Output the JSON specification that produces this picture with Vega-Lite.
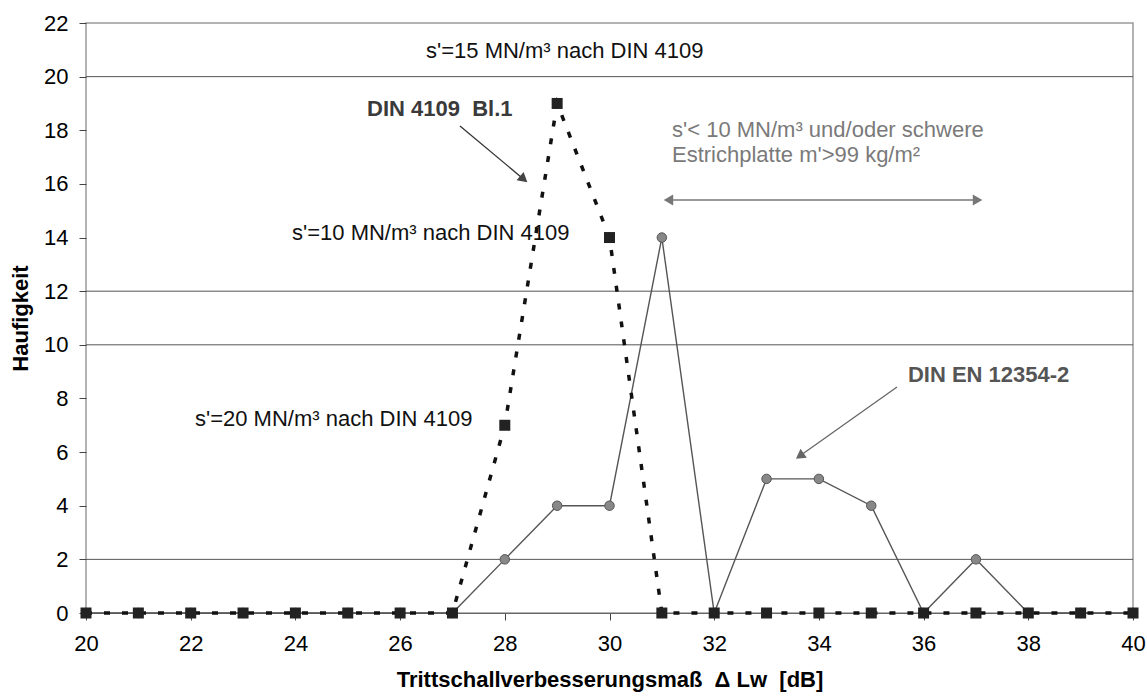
{
  "$schema": "https://vega.github.io/schema/vega-lite/v6.json",
  "width": 1047,
  "height": 590,
  "autosize": "none",
  "padding": {"left": 86, "top": 23, "right": 14, "bottom": 85},
  "background": "white",
  "datasets": {
    "series": [
      {"x": 20, "y": 0, "series": "DIN EN 12354-2"}, {"x": 21, "y": 0, "series": "DIN EN 12354-2"},
      {"x": 22, "y": 0, "series": "DIN EN 12354-2"}, {"x": 23, "y": 0, "series": "DIN EN 12354-2"},
      {"x": 24, "y": 0, "series": "DIN EN 12354-2"}, {"x": 25, "y": 0, "series": "DIN EN 12354-2"},
      {"x": 26, "y": 0, "series": "DIN EN 12354-2"}, {"x": 27, "y": 0, "series": "DIN EN 12354-2"},
      {"x": 28, "y": 2, "series": "DIN EN 12354-2"}, {"x": 29, "y": 4, "series": "DIN EN 12354-2"},
      {"x": 30, "y": 4, "series": "DIN EN 12354-2"}, {"x": 31, "y": 14, "series": "DIN EN 12354-2"},
      {"x": 32, "y": 0, "series": "DIN EN 12354-2"}, {"x": 33, "y": 5, "series": "DIN EN 12354-2"},
      {"x": 34, "y": 5, "series": "DIN EN 12354-2"}, {"x": 35, "y": 4, "series": "DIN EN 12354-2"},
      {"x": 36, "y": 0, "series": "DIN EN 12354-2"}, {"x": 37, "y": 2, "series": "DIN EN 12354-2"},
      {"x": 38, "y": 0, "series": "DIN EN 12354-2"}, {"x": 39, "y": 0, "series": "DIN EN 12354-2"},
      {"x": 40, "y": 0, "series": "DIN EN 12354-2"},
      {"x": 20, "y": 0, "series": "DIN 4109 Bl.1"}, {"x": 21, "y": 0, "series": "DIN 4109 Bl.1"},
      {"x": 22, "y": 0, "series": "DIN 4109 Bl.1"}, {"x": 23, "y": 0, "series": "DIN 4109 Bl.1"},
      {"x": 24, "y": 0, "series": "DIN 4109 Bl.1"}, {"x": 25, "y": 0, "series": "DIN 4109 Bl.1"},
      {"x": 26, "y": 0, "series": "DIN 4109 Bl.1"}, {"x": 27, "y": 0, "series": "DIN 4109 Bl.1"},
      {"x": 28, "y": 7, "series": "DIN 4109 Bl.1"}, {"x": 29, "y": 19, "series": "DIN 4109 Bl.1"},
      {"x": 30, "y": 14, "series": "DIN 4109 Bl.1"}, {"x": 31, "y": 0, "series": "DIN 4109 Bl.1"},
      {"x": 32, "y": 0, "series": "DIN 4109 Bl.1"}, {"x": 33, "y": 0, "series": "DIN 4109 Bl.1"},
      {"x": 34, "y": 0, "series": "DIN 4109 Bl.1"}, {"x": 35, "y": 0, "series": "DIN 4109 Bl.1"},
      {"x": 36, "y": 0, "series": "DIN 4109 Bl.1"}, {"x": 37, "y": 0, "series": "DIN 4109 Bl.1"},
      {"x": 38, "y": 0, "series": "DIN 4109 Bl.1"}, {"x": 39, "y": 0, "series": "DIN 4109 Bl.1"},
      {"x": 40, "y": 0, "series": "DIN 4109 Bl.1"}
    ],
    "grid": [{"y": 2}, {"y": 10}, {"y": 12}, {"y": 20}],
    "notes": [
      {"x": 26.495, "y": 20.70, "text": "s'=15 MN/m³ nach DIN 4109", "group": "plain"},
      {"x": 23.935, "y": 13.91, "text": "s'=10 MN/m³ nach DIN 4109", "group": "plain"},
      {"x": 22.082, "y": 6.97, "text": "s'=20 MN/m³ nach DIN 4109", "group": "plain"},
      {"x": 25.368, "y": 18.53, "text": "DIN 4109\u00a0\u00a0Bl.1", "group": "bl1"},
      {"x": 31.194, "y": 17.75, "text": "s'< 10 MN/m³ und/oder schwere", "group": "range"},
      {"x": 31.194, "y": 16.81, "text": "Estrichplatte m'>99 kg/m²", "group": "range"},
      {"x": 35.70, "y": 8.61, "text": "DIN EN 12354-2", "group": "en"}
    ],
    "arrows": [
      {"x": 27.144, "y": 18.160, "x2": 28.338, "y2": 16.213, "arrow": "bl1"},
      {"x": 31.156, "y": 15.400, "x2": 37.001, "y2": 15.400, "arrow": "range"},
      {"x": 35.492, "y": 8.427, "x2": 33.660, "y2": 5.888, "arrow": "en"}
    ]
  },
  "layer": [
    {
      "data": {"name": "grid"},
      "mark": {"type": "rule", "color": "#555555", "strokeWidth": 1},
      "encoding": {
        "y": {"field": "y", "type": "quantitative", "scale": {"domain": [0, 22], "nice": false, "zero": false},
              "axis": {"title": "Haufigkeit", "values": [0, 2, 4, 6, 8, 10, 12, 14, 16, 18, 20, 22]}}
      }
    },
    {
      "data": {"name": "series"},
      "transform": [{"filter": "datum.series === 'DIN EN 12354-2'"}],
      "mark": {"type": "line", "color": "#555555", "strokeWidth": 1.4},
      "encoding": {
        "x": {"field": "x", "type": "quantitative", "scale": {"domain": [20, 40], "nice": false, "zero": false},
              "axis": {"title": "Trittschallverbesserungsmaß \u00a0Δ Lw \u00a0[dB]", "values": [20, 22, 24, 26, 28, 30, 32, 34, 36, 38, 40]}},
        "y": {"field": "y", "type": "quantitative"}
      }
    },
    {
      "data": {"name": "series"},
      "transform": [{"filter": "datum.series === 'DIN EN 12354-2'"}],
      "mark": {"type": "point", "shape": "circle", "filled": true, "fill": "#888888", "stroke": "#555555", "strokeWidth": 1, "size": 90, "opacity": 1},
      "encoding": {
        "x": {"field": "x", "type": "quantitative"},
        "y": {"field": "y", "type": "quantitative"}
      }
    },
    {
      "data": {"name": "series"},
      "transform": [{"filter": "datum.series === 'DIN 4109 Bl.1'"}],
      "mark": {"type": "line", "color": "#111111", "strokeWidth": 3.5, "strokeDash": [6, 12]},
      "encoding": {
        "x": {"field": "x", "type": "quantitative"},
        "y": {"field": "y", "type": "quantitative"}
      }
    },
    {
      "data": {"name": "series"},
      "transform": [{"filter": "datum.series === 'DIN 4109 Bl.1'"}],
      "mark": {"type": "square", "filled": true, "color": "#222222", "size": 121, "opacity": 1},
      "encoding": {
        "x": {"field": "x", "type": "quantitative"},
        "y": {"field": "y", "type": "quantitative"}
      }
    },
    {
      "data": {"name": "arrows"},
      "transform": [{"filter": "datum.arrow === 'bl1'"}],
      "layer": [
        {"mark": {"type": "rule", "color": "#333333", "strokeWidth": 1.3},
         "encoding": {"x": {"field": "x", "type": "quantitative"}, "y": {"field": "y", "type": "quantitative"},
                      "x2": {"field": "x2"}, "y2": {"field": "y2"}}},
        {"mark": {"type": "point", "shape": "triangle", "filled": true, "color": "#444444", "size": 120, "angle": 129.9, "opacity": 1},
         "encoding": {"x": {"field": "x2", "type": "quantitative"}, "y": {"field": "y2", "type": "quantitative"}}}
      ]
    },
    {
      "data": {"name": "arrows"},
      "transform": [{"filter": "datum.arrow === 'range'"}],
      "layer": [
        {"mark": {"type": "rule", "color": "#777777", "strokeWidth": 1.3},
         "encoding": {"x": {"field": "x", "type": "quantitative"}, "y": {"field": "y", "type": "quantitative"},
                      "x2": {"field": "x2"}, "y2": {"field": "y2"}}},
        {"mark": {"type": "point", "shape": "triangle", "filled": true, "color": "#777777", "size": 120, "angle": 270, "opacity": 1},
         "encoding": {"x": {"field": "x", "type": "quantitative"}, "y": {"field": "y", "type": "quantitative"}}},
        {"mark": {"type": "point", "shape": "triangle", "filled": true, "color": "#777777", "size": 120, "angle": 90, "opacity": 1},
         "encoding": {"x": {"field": "x2", "type": "quantitative"}, "y": {"field": "y2", "type": "quantitative"}}}
      ]
    },
    {
      "data": {"name": "arrows"},
      "transform": [{"filter": "datum.arrow === 'en'"}],
      "layer": [
        {"mark": {"type": "rule", "color": "#666666", "strokeWidth": 1.3},
         "encoding": {"x": {"field": "x", "type": "quantitative"}, "y": {"field": "y", "type": "quantitative"},
                      "x2": {"field": "x2"}, "y2": {"field": "y2"}}},
        {"mark": {"type": "point", "shape": "triangle", "filled": true, "color": "#666666", "size": 120, "angle": 234.6, "opacity": 1},
         "encoding": {"x": {"field": "x2", "type": "quantitative"}, "y": {"field": "y2", "type": "quantitative"}}}
      ]
    },
    {
      "data": {"name": "notes"},
      "transform": [{"filter": "datum.group === 'plain'"}],
      "mark": {"type": "text", "align": "left", "baseline": "alphabetic", "font": "Liberation Sans", "fontSize": 22, "color": "#111111"},
      "encoding": {"x": {"field": "x", "type": "quantitative"}, "y": {"field": "y", "type": "quantitative"}, "text": {"field": "text"}}
    },
    {
      "data": {"name": "notes"},
      "transform": [{"filter": "datum.group === 'bl1'"}],
      "mark": {"type": "text", "align": "left", "baseline": "alphabetic", "font": "Liberation Sans", "fontSize": 22, "fontWeight": "bold", "color": "#3a3a3a"},
      "encoding": {"x": {"field": "x", "type": "quantitative"}, "y": {"field": "y", "type": "quantitative"}, "text": {"field": "text"}}
    },
    {
      "data": {"name": "notes"},
      "transform": [{"filter": "datum.group === 'range'"}],
      "mark": {"type": "text", "align": "left", "baseline": "alphabetic", "font": "Liberation Sans", "fontSize": 22, "color": "#7a7a7a"},
      "encoding": {"x": {"field": "x", "type": "quantitative"}, "y": {"field": "y", "type": "quantitative"}, "text": {"field": "text"}}
    },
    {
      "data": {"name": "notes"},
      "transform": [{"filter": "datum.group === 'en'"}],
      "mark": {"type": "text", "align": "left", "baseline": "alphabetic", "font": "Liberation Sans", "fontSize": 22, "fontWeight": "bold", "color": "#555555"},
      "encoding": {"x": {"field": "x", "type": "quantitative"}, "y": {"field": "y", "type": "quantitative"}, "text": {"field": "text"}}
    }
  ],
  "config": {
    "view": {"stroke": "#9a9a9a", "strokeWidth": 1.5},
    "font": "Liberation Sans",
    "axis": {
      "labelFont": "Liberation Sans", "labelFontSize": 22, "labelColor": "#000000",
      "titleFont": "Liberation Sans", "titleFontSize": 22, "titleFontWeight": "bold", "titleColor": "#000000",
      "grid": false, "tickColor": "#444444", "tickSize": 7, "tickWidth": 1
    },
    "axisX": {"domainColor": "#666666", "domainWidth": 1.2, "labelPadding": 13, "titlePadding": 15, "labelFlush": false},
    "axisY": {"domain": false, "labelPadding": 11, "titlePadding": 11, "labelFlush": false}
  }
}
